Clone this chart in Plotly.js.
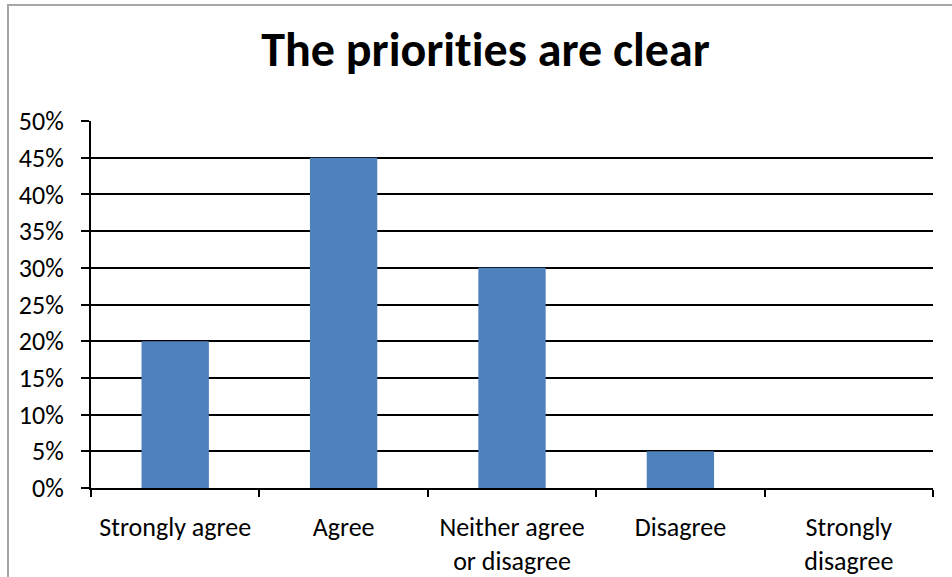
<!DOCTYPE html>
<html>
<head>
<meta charset="utf-8">
<script src="https://cdn.plot.ly/plotly-3.0.1.min.js"></script>
<style>
  html, body { margin: 0; padding: 0; background: #fff; }
  #wrap { position: relative; width: 952px; height: 577px; overflow: hidden; }
  #chart { position: absolute; left: 0; top: 0; width: 952px; height: 577px; }
  #chart text { font-variant-ligatures: none; font-feature-settings: "liga" 0, "clig" 0; }
  #frame { position: absolute; left: 7px; top: 4px; width: 960px; height: 600px;
           border-left: 2px solid #a6a6a6; border-top: 2px solid #a6a6a6; pointer-events: none; }
</style>
</head>
<body>
<div id="wrap">
  <div id="chart"></div>
  <div id="frame"></div>
</div>
<script>
const categories = ["Strongly agree", "Agree", "Neither agree<br>or disagree", "Disagree", "Strongly<br>disagree"];
const values = [0.20, 0.45, 0.30, 0.05, 0.00];
const yTickVals = [0, 0.05, 0.10, 0.15, 0.20, 0.25, 0.30, 0.35, 0.40, 0.45, 0.50];
const chartTitle = "The priorities are clear";

const font = "Carlito, Calibri, 'Open Sans', 'Noto Sans', sans-serif";

const data = [{
  type: "bar",
  x: categories,
  y: values,
  marker: { color: "#4F81BD", line: { width: 0 } },
  hoverinfo: "x+y"
}];

const layout = {
  width: 952,
  height: 577,
  margin: { l: 91, r: 19, t: 121, b: 89, pad: 0 },
  paper_bgcolor: "#ffffff",
  plot_bgcolor: "#ffffff",
  showlegend: false,
  bargap: 0.6,
  title: {
    text: "<b>" + chartTitle + "</b>",
    font: { family: font, size: 48, color: "#000000" },
    x: 0.51, xanchor: "center", y: 0.915, yanchor: "middle"
  },
  xaxis: {
    type: "category",
    showgrid: false,
    showline: true, linecolor: "#000000", linewidth: 2,
    ticks: "outside", tickson: "boundaries", ticklen: 7, tickwidth: 2, tickcolor: "#000000",
    tickfont: { family: font, size: 26, color: "#000000" },
    ticklabelstandoff: 15,
    fixedrange: true
  },
  yaxis: {
    range: [0, 0.5],
    tickvals: yTickVals,
    tickformat: ".0%",
    showgrid: true, gridcolor: "#000000", gridwidth: 1.5,
    showline: true, linecolor: "#000000", linewidth: 2,
    ticks: "outside", ticklen: 8, tickwidth: 1.5, tickcolor: "#000000",
    tickfont: { family: font, size: 26, color: "#000000" },
    ticklabelstandoff: 12,
    zeroline: false,
    fixedrange: true
  }
};

Plotly.newPlot("chart", data, layout, { displayModeBar: false, staticPlot: false });
</script>
</body>
</html>
